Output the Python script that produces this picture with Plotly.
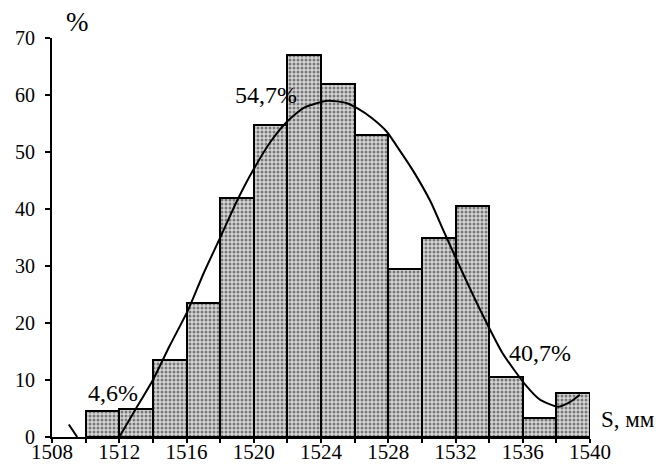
import plotly.graph_objects as go

# Histogram bins (left edges) and heights, %
bin_left = [1510, 1512, 1514, 1516, 1518, 1520, 1522, 1524, 1526, 1528, 1530, 1532, 1534, 1536, 1538]
bin_width = 2
bin_height = [4.5, 5.0, 13.5, 23.5, 42.0, 54.7, 67.0, 62.0, 53.0, 29.5, 35.0, 40.5, 10.5, 3.3, 7.7]

# Fitted curve
curve_x = [1509.0, 1509.5, None, 1512.0, 1513.0, 1514.0, 1515.0, 1516.1, 1517.0, 1518.1, 1519.0,
           1520.0, 1521.0, 1522.0, 1523.0, 1524.4, 1525.5, 1526.2, 1527.0, 1527.9, 1528.7,
           1529.5, 1530.5, 1531.3, 1532.3, 1533.5, 1534.8, 1536.2, 1537.0, 1538.1, 1538.8, 1539.4]
curve_y = [2.2, 0.0, None, 0.0, 5.0, 10.0, 16.0, 22.3, 28.6, 35.6, 41.4,
           47.0, 51.8, 55.4, 57.8, 59.0, 58.6, 57.6, 56.0, 53.6, 50.2,
           46.6, 41.4, 36.1, 29.6, 22.1, 14.7, 9.0, 6.6, 5.3, 6.1, 7.4]

x_ticks = [1508, 1512, 1516, 1520, 1524, 1528, 1532, 1536, 1540]
y_ticks = [0, 10, 20, 30, 40, 50, 60, 70]

# in-plot labels (data coordinates)
data_labels = [
    ("54,7%", 1520.7, 60.0),
    ("40,7%", 1537.05, 14.7),
    ("4,6%", 1511.6, 7.7),
]
# labels outside the plot area (paper coordinates)
paper_labels = [
    ("%", 0.047, 1.04),
    ("S, мм", 1.07, 0.045),
]

FONT = "Liberation Serif, Times New Roman, serif"

centers = [l + bin_width / 2 for l in bin_left]

fig = go.Figure()
fig.add_trace(go.Bar(
    x=centers, y=bin_height, width=[bin_width] * len(centers),
    marker=dict(
        color="white",
        line=dict(color="black", width=2),
        pattern=dict(shape=".", fgcolor="#1a1a1a", bgcolor="#d6d6d6", size=4, solidity=0.45),
    ),
    showlegend=False, hoverinfo="skip",
))
fig.add_trace(go.Scatter(
    x=curve_x, y=curve_y, mode="lines",
    line=dict(color="black", width=2, shape="spline", smoothing=0.6),
    connectgaps=False, showlegend=False, hoverinfo="skip",
))

for text, x, y in data_labels:
    fig.add_annotation(x=x, y=y, text=text, showarrow=False,
                       xanchor="center", yanchor="middle",
                       font=dict(family=FONT, size=24, color="black"))
for text, x, y in paper_labels:
    fig.add_annotation(x=x, y=y, xref="paper", yref="paper", text=text, showarrow=False,
                       xanchor="center", yanchor="middle",
                       font=dict(family=FONT, size=27 if text == "%" else 23, color="black"))

# The page body adds an 8px offset, so the figure is drawn slightly smaller
fig.update_layout(
    width=654, height=456,
    margin=dict(l=44, r=72, t=30, b=27),
    paper_bgcolor="white", plot_bgcolor="white",
    bargap=0,
    font=dict(family=FONT, color="black"),
)
fig.update_xaxes(
    range=[1508, 1540], tickvals=x_ticks, ticktext=[str(v) for v in x_ticks],
    automargin=False,
    showgrid=False, zeroline=False,
    showline=True, linecolor="black", linewidth=1.8,
    ticks="outside", ticklen=4, tickcolor="black", tickwidth=1.8,
    minor=dict(dtick=2, tick0=1508, ticks="outside", ticklen=4, tickcolor="black", tickwidth=1.8, showgrid=False),
    ticklabelstandoff=-9,
    tickfont=dict(family=FONT, size=21, color="black"),
)
fig.update_yaxes(
    range=[0, 70], tickvals=y_ticks,
    automargin=False,
    showgrid=False, zeroline=False,
    showline=True, linecolor="black", linewidth=1.8,
    ticks="outside", ticklen=5, tickcolor="black", tickwidth=1.8,
    ticklabelstandoff=6,
    tickfont=dict(family=FONT, size=20, color="black"),
)

fig.write_html("out.html")
